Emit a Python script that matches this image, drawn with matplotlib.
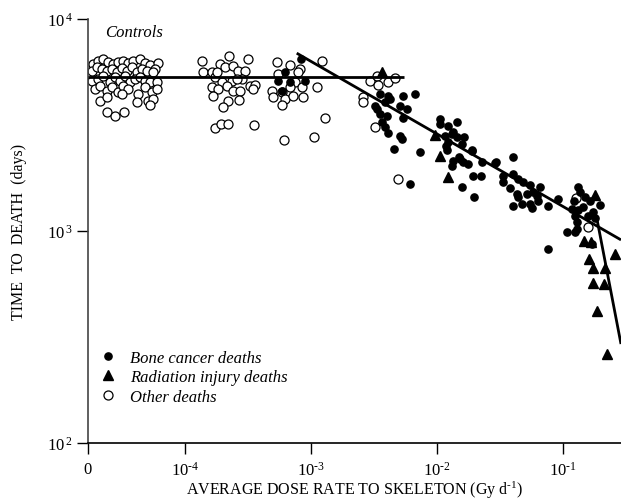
import matplotlib
matplotlib.use("Agg")
import matplotlib.pyplot as plt
from matplotlib.lines import Line2D

plt.rcParams['font.family'] = ['Liberation Serif', 'DejaVu Serif']
plt.rcParams['mathtext.fontset'] = 'custom'
plt.rcParams['mathtext.rm'] = 'Liberation Serif'
plt.rcParams['mathtext.it'] = 'Liberation Serif:italic'

# ---------------- data (dose in Gy/d, time to death in days) ----------------
# Controls (dose 0) are shown jittered just right of the "0" position
control_dose = [1.87e-5, 2.05e-5, 2.25e-5, 2.46e-5, 2.70e-5, 2.96e-5, 3.24e-5, 3.55e-5, 3.89e-5,
                4.40e-5, 4.82e-5, 5.27e-5, 6.14e-5, 5.78e-5,
                1.82e-5, 1.99e-5, 2.18e-5, 2.39e-5, 2.62e-5, 2.87e-5, 3.15e-5, 3.45e-5, 3.78e-5,
                4.14e-5, 4.53e-5, 4.96e-5, 5.60e-5,
                1.82e-5, 2.05e-5, 2.25e-5, 2.54e-5, 2.78e-5, 3.05e-5, 3.34e-5, 3.66e-5, 4.01e-5,
                4.40e-5, 4.82e-5, 5.27e-5, 5.96e-5,
                1.93e-5, 2.11e-5, 2.39e-5, 2.62e-5, 2.96e-5, 3.24e-5, 3.55e-5, 4.26e-5, 4.82e-5,
                5.44e-5, 5.96e-5,
                2.11e-5, 2.39e-5, 3.15e-5, 4.14e-5, 5.12e-5, 5.60e-5, 5.27e-5,
                2.39e-5, 2.78e-5, 3.30e-5]
control_days = [6140, 6360, 6470, 6250, 6140, 6250, 6360, 6200, 6360,
                6470, 6200, 6070, 6200, 5810,
                5700, 5910, 5810, 5700, 5810, 5610, 5850, 5700, 5910,
                5610, 5810, 5700, 5610,
                5120, 5210, 5400, 5020, 5310, 5120, 5400, 5020, 5210,
                5310, 5120, 5020, 5060,
                4680, 4850, 4590, 4760, 4510, 4850, 4680, 4430, 4760,
                4510, 4680,
                4120, 4270, 4430, 4050, 4120, 4200, 3930,
                3630, 3500, 3660]

other_dose = [1.36e-4, 1.40e-4, 1.63e-4, 1.90e-4, 2.08e-4, 2.23e-4, 2.42e-4, 2.65e-4, 2.99e-4,
              3.18e-4, 1.73e-4, 1.95e-4, 2.35e-4, 2.82e-4, 1.63e-4, 1.84e-4, 2.14e-4, 2.42e-4,
              2.73e-4, 3.28e-4, 3.60e-4, 3.49e-4, 1.68e-4, 2.21e-4, 2.69e-4, 2.01e-4, 2.57e-4,
              1.79e-4, 1.73e-4, 1.93e-4, 2.21e-4, 3.55e-4,
              5.35e-4, 6.82e-4, 8.18e-4, 5.50e-4, 7.92e-4, 7.46e-4, 4.88e-4, 5.85e-4, 6.82e-4,
              8.43e-4, 5.02e-4, 6.22e-4, 7.25e-4, 8.69e-4, 5.85e-4, 1.11e-3, 1.22e-3, 1.29e-3,
              6.11e-4, 1.06e-3,
              2.94e-3, 3.32e-3, 3.42e-3, 4.10e-3, 4.65e-3, 2.60e-3, 2.60e-3, 3.22e-3, 4.93e-3,
              0.126, 0.159]
other_days = [6310, 5640, 5610, 6140, 5910, 6670, 6030, 5700, 5700,
              6470, 5310, 5020, 5120, 5210, 4760, 4680, 4850, 4590,
              4590, 4850, 4880, 4680, 4340, 4120, 4160, 3830, 5210,
              5610, 3060, 3200, 3180, 3160,
              6250, 6070, 5810, 5510, 5610, 5020, 4590, 4510, 4760,
              4760, 4270, 4200, 4340, 4270, 3930, 4760, 6310, 3430,
              2690, 2790,
              5120, 5400, 4880, 5020, 5270, 4270, 4060, 3080, 1760,
              1430, 1050]

bone_dose = [6.22e-4, 5.50e-4, 6.82e-4, 8.95e-4, 5.85e-4, 8.34e-4,
             3.53e-3, 4.10e-3, 5.41e-3, 6.68e-3, 3.22e-3, 3.86e-3, 5.09e-3, 5.75e-3, 3.53e-3,
             3.99e-3, 5.41e-3, 3.64e-3, 3.86e-3, 4.10e-3, 5.09e-3, 5.25e-3, 4.58e-3, 7.33e-3,
             3.32e-3, 4.24e-3, 6.11e-3,
             1.16e-2, 1.31e-2, 1.43e-2, 1.65e-2, 1.23e-2, 1.57e-2, 1.88e-2, 1.21e-2, 1.35e-2,
             1.48e-2, 1.62e-2, 1.77e-2, 1.31e-2, 2.26e-2, 2.88e-2, 3.97e-2, 1.92e-2, 2.22e-2,
             1.59e-2, 1.98e-2, 1.06e-2, 1.23e-2, 1.45e-2, 1.06e-2, 1.35e-2, 1.17e-2, 1.52e-2,
             1.88e-2, 2.94e-2,
             3.36e-2, 4.04e-2, 4.42e-2, 4.84e-2, 3.36e-2, 3.80e-2, 5.47e-2, 6.57e-2, 4.29e-2,
             5.15e-2, 5.81e-2, 4.42e-2, 6.18e-2, 4.04e-2, 4.70e-2, 5.47e-2, 5.65e-2, 6.37e-2,
             7.64e-2, 9.18e-2,
             0.132, 0.137, 0.121, 0.150, 0.164, 0.197, 0.117, 0.132, 0.145, 0.174, 0.124, 0.159,
             0.179, 0.128, 0.128, 0.108, 0.124, 0.169, 0.0764]
bone_days = [5610, 5120, 5020, 5120, 4590, 6470,
             4430, 4340, 4340, 4430, 3900, 4050, 3900, 3760, 3560,
             3500, 3430, 3260, 3080, 2910, 2820, 2720, 2440, 2350,
             3760, 4200, 1670,
             2820, 2880, 2770, 2770, 2620, 2570, 2410, 2410, 2150,
             2230, 2110, 2070, 2030, 2110, 2090, 2240, 1810, 1810,
             1620, 1440, 3370, 3140, 3260, 3200, 2920, 2530, 2190,
             2390, 2110,
             1820, 1860, 1760, 1700, 1700, 1590, 1640, 1620, 1500,
             1500, 1530, 1440, 1470, 1310, 1340, 1340, 1280, 1390,
             1310, 1420,
             1620, 1530, 1390, 1440, 1390, 1330, 1270, 1250, 1300, 1230, 1180, 1180,
             1150, 1100, 1020, 990, 990, 870, 820]

injury_dose = [3.64e-3, 9.64e-3, 1.06e-2, 1.23e-2,
               0.179, 0.147, 0.167, 0.161, 0.174, 0.215, 0.174, 0.211, 0.186, 0.259, 0.221]
injury_days = [5640, 2850, 2260, 1800,
               1480, 900, 890, 740, 670, 670, 570, 560, 420, 780, 263]

# fitted lines
control_line_dose = [1.70e-5, 5.5e-3]
control_line_days = [5350, 5350]
slope_line_dose = [7.7e-4, 0.288]
slope_line_days = [6900, 908]
steep_line_dose = [0.185, 0.288]
steep_line_days = [1150, 293]

x_tick_values = [1.70e-5, 1e-4, 1e-3, 1e-2, 1e-1]
x_tick_labels = ['0', r'$\mathrm{10^{\text{-}4}}$', r'$\mathrm{10^{\text{-}3}}$',
                 r'$\mathrm{10^{\text{-}2}}$', r'$\mathrm{10^{\text{-}1}}$']
y_tick_values = [1e2, 1e3, 1e4]
y_tick_labels = [r'$\mathrm{10^{\,2}}$', r'$\mathrm{10^{\,3}}$', r'$\mathrm{10^{\,4}}$']

# ---------------- figure ----------------
fig = plt.figure(figsize=(6.21, 5.02), dpi=100)
ax = fig.add_axes([88/621, 1-444/502, 1-88/621, (444-20)/502])
ax.set_xscale('log')
ax.set_yscale('log')
ax.set_xlim(1.70e-5, 0.288)
ax.set_ylim(1e2, 1e4)

ax.plot(control_dose, control_days, 'o', ls='none', mfc='white', mec='black', ms=6.5, mew=0.9, zorder=2)
ax.plot(other_dose, other_days, 'o', ls='none', mfc='white', mec='black', ms=6.5, mew=0.9, zorder=2)
ax.plot(bone_dose, bone_days, 'o', ls='none', color='black', ms=5.2, zorder=3)
ax.plot(injury_dose, injury_days, '^', ls='none', color='black', ms=7.5, zorder=3)

ax.plot(control_line_dose, control_line_days, color='black', lw=2, zorder=4, solid_capstyle='butt')
ax.plot(slope_line_dose, slope_line_days, color='black', lw=2, zorder=4, solid_capstyle='butt')
ax.plot(steep_line_dose, steep_line_days, color='black', lw=2, zorder=4, solid_capstyle='butt')

ax.set_xticks(x_tick_values)
ax.set_xticklabels(x_tick_labels)
ax.set_yticks(y_tick_values)
ax.set_yticklabels(y_tick_labels)
ax.minorticks_off()
ax.tick_params(axis='both', direction='out', length=8, width=1, labelsize=12, colors='black')
ax.tick_params(axis='x', pad=5)
ax.tick_params(axis='y', pad=3)

for s in ['top', 'right']:
    ax.spines[s].set_visible(False)
ax.spines['left'].set_color('#444444')
ax.spines['left'].set_linewidth(1.2)
ax.spines['bottom'].set_linewidth(1.2)

ax.set_xlabel(r'AVERAGE DOSE RATE TO SKELETON (Gy d$^{\mathrm{\text{-}1}}$)', fontsize=11.5, labelpad=0)
ax.set_ylabel('TIME  TO  DEATH  (days)', fontsize=11.5, labelpad=14)

ax.text(0.032, 0.97, 'Controls', transform=ax.transAxes, fontsize=12, style='italic',
        ha='left', va='center')

handles = [Line2D([], [], marker='o', ls='none', color='black', ms=5.2),
           Line2D([], [], marker='^', ls='none', color='black', ms=7.5),
           Line2D([], [], marker='o', ls='none', mfc='white', mec='black', ms=6.5, mew=0.9)]
labels = ['Bone cancer deaths', 'Radiation injury deaths', 'Other deaths']
leg = ax.legend(handles, labels, loc='lower left', bbox_to_anchor=(0.01, 0.075), frameon=False,
                prop={'style': 'italic', 'size': 12}, handlelength=1.0, handletextpad=0.8,
                labelspacing=0.2, borderaxespad=0)

fig.savefig('out.png', dpi=100)
